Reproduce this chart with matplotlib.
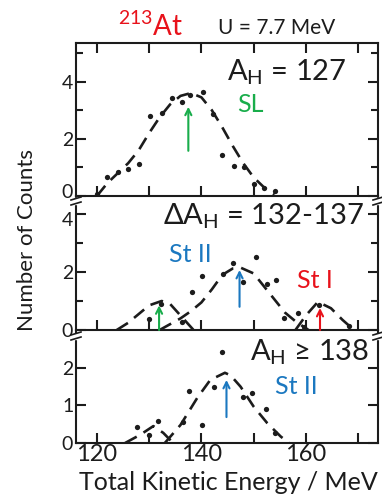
import matplotlib
matplotlib.use("Agg")
import matplotlib.pyplot as plt
from matplotlib.lines import Line2D
from matplotlib.transforms import ScaledTranslation

plt.rcParams['font.family'] = ['Lato', 'DejaVu Sans']
plt.rcParams['mathtext.fontset'] = 'custom'
plt.rcParams['mathtext.rm'] = 'Lato'
plt.rcParams['mathtext.it'] = 'Lato:italic'

# ---- data ----
# panel 1 : A_H = 127
top_E = [120, 121.9, 124, 126, 128, 130.2, 132.5, 134.4, 136.3, 137.9, 140.4, 142.3,
         144, 146.2, 148.1, 150, 152, 154]
top_N = [0.07, 0.67, 0.84, 0.95, 1.12, 2.8, 2.9, 3.44, 3.27, 3.54, 3.62, 2.87,
         1.44, 1.05, 1.02, 0.42, 0.28, 0.18]
top_fit_E = [120, 122, 124, 126, 128, 130, 132, 134, 136, 138, 140, 142, 144, 146,
             148, 150, 152, 154]
top_fit_N = [0.0, 0.45, 0.8, 1.15, 1.6, 2.2, 2.75, 3.2, 3.5, 3.6, 3.45, 3.0, 2.4,
             1.75, 1.15, 0.65, 0.3, 0.05]

# panel 2 : A_H = 132-137
mid_E = [130.0, 132.2, 136.3, 138.2, 140.1, 144.2, 146.1, 148.0, 150.4, 152.5,
         154.2, 155.8, 158.4, 159.7, 162.5, 168.3]
mid_N = [0.38, 0.9, 0.28, 1.3, 1.87, 1.93, 2.3, 1.64, 2.53, 1.6, 1.72, 0.4, 0.58,
         0.1, 0.86, 0.15]
mid_fit1_E = [123.8, 126, 128, 130, 132.4, 134, 136, 138.5]
mid_fit1_N = [0.0, 0.25, 0.55, 0.85, 1.0, 0.9, 0.5, 0.0]
mid_fit2_E = [132, 134, 136, 138, 140, 142, 144, 146, 147.5, 150, 152, 154, 156, 158, 160.5]
mid_fit2_N = [0.0, 0.2, 0.4, 0.65, 0.95, 1.4, 1.9, 2.12, 2.15, 1.95, 1.5, 1.05, 0.6, 0.3, 0.0]
mid_fit3_E = [158, 160, 162.3, 164.8, 167, 169.2]
mid_fit3_N = [0.0, 0.5, 0.97, 0.75, 0.35, 0.0]

# panel 3 : A_H >= 138
bot_E = [127.7, 130.0, 131.7, 136.5, 137.7, 140.2, 142.5, 144.0, 147.9, 149.6, 152.3, 154.0]
bot_N = [0.43, 0.2, 0.59, 0.56, 1.39, 0.48, 1.49, 2.43, 1.23, 1.33, 0.91, 0.27]
bot_fit1_E = [125.4, 128.3, 130.8, 132.7, 134.6]
bot_fit1_N = [0.0, 0.22, 0.45, 0.27, 0.0]
bot_fit2_E = [133, 136, 139.2, 141.7, 144.5, 145.6, 147.5, 150, 152.6, 155.2, 156.8]
bot_fit2_N = [0.0, 0.48, 1.2, 1.68, 1.87, 1.8, 1.5, 0.97, 0.53, 0.17, 0.0]

# arrows: (E, from, to, colour)
RED, GREEN, BLUE = '#e8121b', '#19ad4b', '#1b78c0'
top_arrows = [(137.5, 1.58, 3.12, GREEN)]
mid_arrows = [(131.9, 0.0, 0.85, GREEN), (147.3, 0.8, 2.07, BLUE), (162.7, 0.0, 0.76, RED)]
bot_arrows = [(144.8, 0.69, 1.68, BLUE)]

W, H = 382, 496
INK = '#1c1c1c'

fig = plt.figure(figsize=(W / 100, H / 100), dpi=100)

def fx(px):
    return px / W

def fy(py):
    return 1 - py / H

L, R = 76, 378
ax1 = fig.add_axes([fx(L), fy(196), fx(R - L), fy(43) - fy(196)])
ax2 = fig.add_axes([fx(L), fy(330), fx(R - L), fy(196) - fy(330)])
ax3 = fig.add_axes([fx(L), fy(443), fx(R - L), fy(330) - fy(443)])

panels = [
    (ax1, top_E, top_N, [(top_fit_E, top_fit_N)], top_arrows, 5.35, [0, 2, 4], [1, 3, 5]),
    (ax2, mid_E, mid_N, [(mid_fit1_E, mid_fit1_N), (mid_fit2_E, mid_fit2_N),
                         (mid_fit3_E, mid_fit3_N)], mid_arrows, 4.62, [0, 2, 4], [1, 3]),
    (ax3, bot_E, bot_N, [(bot_fit1_E, bot_fit1_N), (bot_fit2_E, bot_fit2_N)],
     bot_arrows, 3.01, [0, 1, 2], []),
]

for ax, E, N, fits, arrows, ymax, yt, ymt in panels:
    for fe, fn in fits:
        ax.plot(fe, fn, color=INK, lw=1.9, dashes=(5, 3), solid_capstyle='butt')
    ax.plot(E, N, 'o', color=INK, ms=3.8, mec='none')
    for e, y0, y1, c in arrows:
        ax.annotate('', xy=(e, y1), xytext=(e, y0),
                    arrowprops=dict(arrowstyle='->', color=c, lw=1.5,
                                    mutation_scale=11, shrinkA=0, shrinkB=0))
    ax.set_xlim(116, 173.8)
    ax.set_ylim(0, ymax)
    ax.set_yticks(yt)
    ax.set_yticks(ymt, minor=True)
    ax.set_xticks([120, 130, 140, 150, 160, 170])
    ax.tick_params(which='both', direction='in', width=1.5, color=INK,
                   labelcolor=INK, right=True, pad=2)
    ax.tick_params(axis='y', labelsize=14)
    ax.tick_params(axis='x', labelsize=17)
    ax.tick_params(which='major', length=7)
    ax.tick_params(which='minor', length=5)
    for s in ax.spines.values():
        s.set_linewidth(1.5)
        s.set_color(INK)
    ax.patch.set_alpha(0)

ax1.tick_params(axis='x', top=True, labelbottom=False)
ax2.tick_params(axis='x', labelbottom=False)
ax2.spines['top'].set_visible(False)
ax3.spines['top'].set_visible(False)
ax3.set_xticks([120, 140, 160])
ax3.set_xticks([130, 150, 170], minor=True)
ax3.tick_params(axis='x', which='minor', length=7)
ax3.tick_params(axis='x', which='major', pad=1)

# keep the "0" of the top panel and the "4" of the middle panel apart
for tick, dy in ((ax1.yaxis.get_major_ticks()[0], 3.5), (ax2.yaxis.get_major_ticks()[-1], -3.5)):
    lab = tick.label1
    lab.set_transform(lab.get_transform() + ScaledTranslation(0, dy / 72, fig.dpi_scale_trans))

# break marks on the vertical spines
def brk(xpx, ypx):
    fig.patches.append(plt.Rectangle((fx(xpx - 3), fy(ypx + 2.5)), fx(6), fy(0) - fy(5),
                                     transform=fig.transFigure, color='white', zorder=5))
    for dy in (-2.5, 2.5):
        fig.lines.append(Line2D([fx(xpx - 5), fx(xpx + 5)],
                                [fy(ypx + dy + 1.5), fy(ypx + dy - 1.5)],
                                transform=fig.transFigure, color=INK, lw=1.2, zorder=6))

for yb in (201, 336):
    brk(L, yb)
    brk(R, yb)

# labels
fig.text(fx(27), fy(240), 'Number of Counts', rotation=90, ha='center', va='center',
         fontsize=16, color=INK)
fig.text(fx(228), fy(482), 'Total Kinetic Energy / MeV', ha='center', va='center',
         fontsize=18, color=INK)

fig.text(fx(151), fy(26), r'$^{213}$At', ha='center', va='center', fontsize=20, color=RED)
fig.text(fx(277), fy(28), 'U = 7.7 MeV', ha='center', va='center', fontsize=15, color=INK)

fig.text(fx(287), fy(72), r'A$_\mathrm{H}$ = 127', ha='center', va='center',
         fontsize=21, color=INK)
fig.text(fx(250), fy(104), 'SL', ha='center', va='center', fontsize=18, color=GREEN)

fig.text(fx(263), fy(216), r'$\Delta$A$_\mathrm{H}$ = 132-137', ha='center', va='center',
         fontsize=21, color=INK)
fig.text(fx(190), fy(255), 'St II', ha='center', va='center', fontsize=18, color=BLUE)
fig.text(fx(315), fy(280), 'St I', ha='center', va='center', fontsize=18, color=RED)

fig.text(fx(310), fy(352), r'A$_\mathrm{H}$ ≥ 138', ha='center', va='center',
         fontsize=21, color=INK)
fig.text(fx(296), fy(387), 'St II', ha='center', va='center', fontsize=18, color=BLUE)

fig.savefig('out.png', dpi=100)
